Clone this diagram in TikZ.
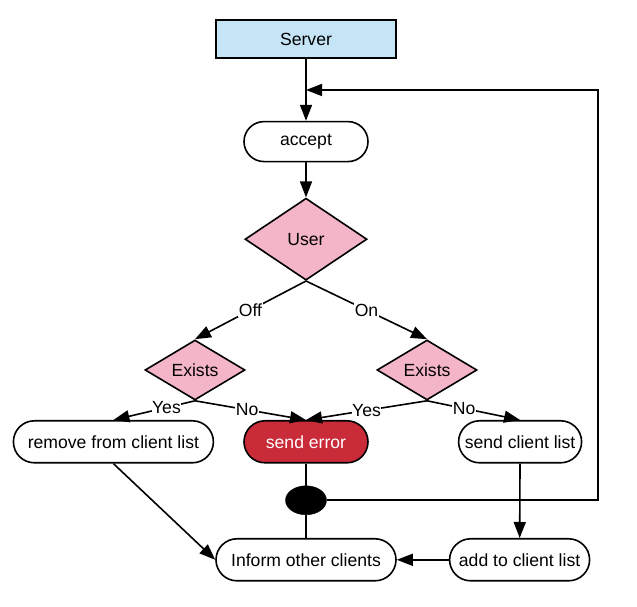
\documentclass[tikz,border=0pt]{standalone}
\usepackage{fontspec}
\setmainfont{Liberation Sans}
\usetikzlibrary{shapes,arrows,positioning,calc,arrows.meta}
\definecolor{serverblue}{RGB}{197,228,245}
\definecolor{decpink}{RGB}{244,181,200}
\definecolor{errred}{RGB}{201,43,56}

\begin{document}
\begin{tikzpicture}[
    x=1pt, y=1pt,
    box/.style={draw, line width=1.6pt, minimum height=42pt, align=center, font=\fontsize{17.6}{21}\selectfont},
    term/.style={box, rounded corners=21pt},
    decision/.style={draw, diamond, line width=1.6pt, fill=decpink, inner sep=0pt, font=\fontsize{17.6}{21}\selectfont},
    arrow/.style={-{Triangle[length=16pt,width=12pt]}, line width=1.6pt},
    lbl/.style={fill=white, inner sep=0.5pt, font=\fontsize{17.6}{21}\selectfont}
]
\useasboundingbox (0,0) rectangle (637,607);

% Server and accept
\node[box, fill=serverblue, minimum width=180pt, minimum height=38pt] (server) at (306,568) {Server};
\node[term, minimum width=124pt, minimum height=40pt, rounded corners=20pt, below=62pt of server] (accept) {accept};

% Decisions
\node[decision, minimum width=122pt, minimum height=82pt, below=35pt of accept] (user) {User};
\node[decision, minimum width=100pt, minimum height=60pt] (existsL) at (195,237) {Exists};
\node[decision, minimum width=100pt, minimum height=60pt] (existsR) at (427,237) {Exists};

% Actions
\node[term, fill=errred, text=white, minimum width=124pt, below=139pt of user] (err) {send error};
\node[term, minimum width=200pt, left=29pt of err] (remove) {remove from client list};
\node[term, minimum width=123pt, right=89pt of err] (sendlist) {send client list};

% Join
\node[draw, ellipse, fill=black, minimum width=41pt, minimum height=29pt, inner sep=0pt, below=22pt of err] (dot) {};

\node[term, minimum width=180pt, below=23pt of dot] (inform) {Inform other clients};
\node[term, minimum width=140pt, right=52pt of inform] (add) {add to client list};

% Arrows
\draw[arrow] (server) -- (accept);
\draw[arrow] (accept) -- (user);
\draw[arrow] (user.south) -- (existsL.north) node[lbl, midway] {Off};
\draw[arrow] (user.south) -- (existsR.north) node[lbl, midway] {On};

\draw[arrow] (existsL.south) -- (remove.north) node[lbl, pos=0.35] {Yes};
\draw[arrow] (existsL.south) -- (err.north) node[lbl, pos=0.47] {No};
\draw[arrow] (existsR.south) -- (err.north) node[lbl, midway] {Yes};
\draw[arrow] (existsR.south) -- (sendlist.north) node[lbl, pos=0.4] {No};

\draw[line width=1.6pt] (err) -- (dot);
\draw[line width=1.6pt] (dot) -- (inform);
\draw[arrow] (remove.south) -- (inform.west);
\draw[arrow] (sendlist) -- (add);
\draw[arrow] (add) -- (inform);

% Loop back to accept
\coordinate (turn) at (598,517);
\draw[arrow] (dot.east) -| (turn) -- (turn -| server.south);

\end{tikzpicture}
\end{document}
